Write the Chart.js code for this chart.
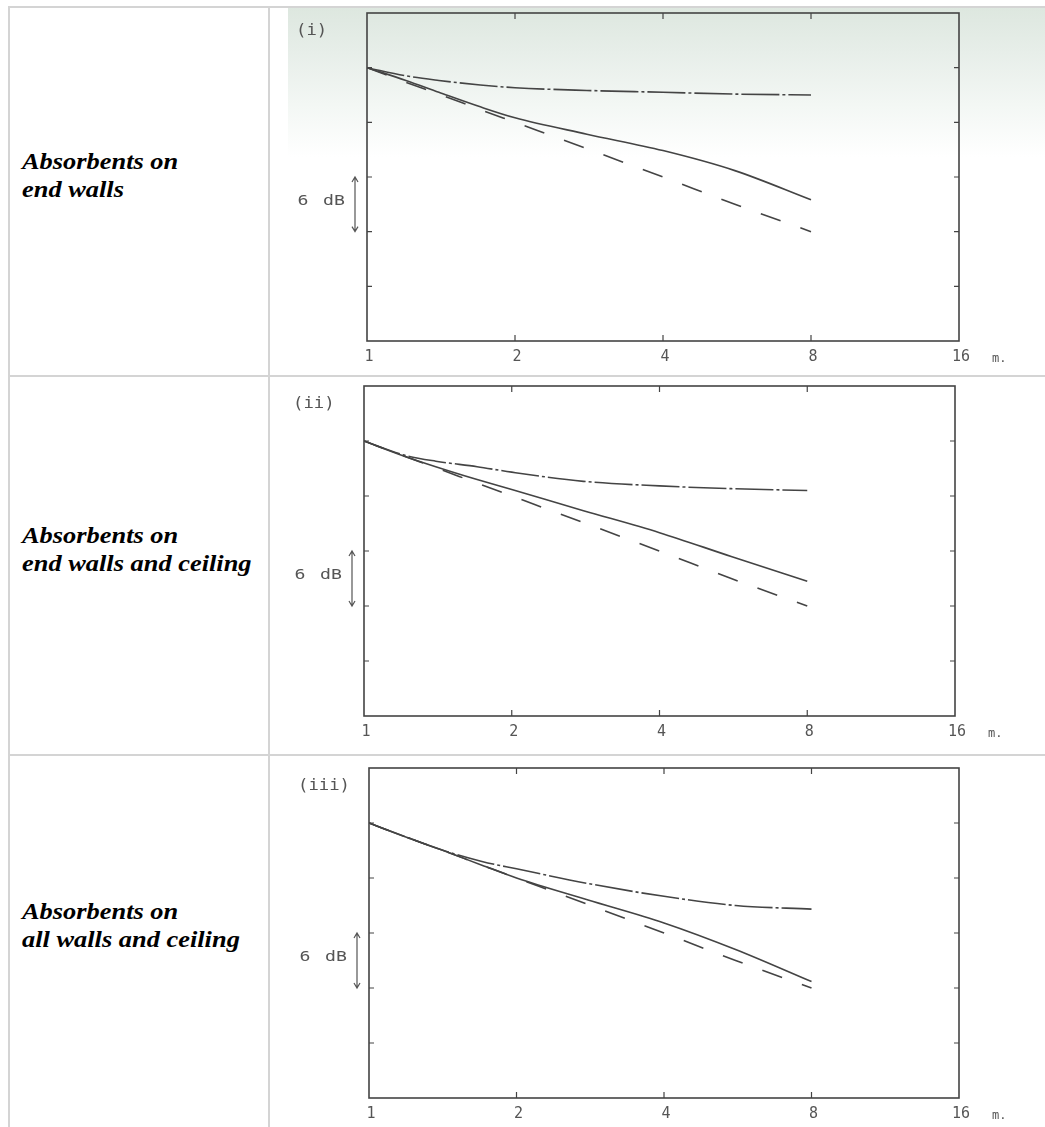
<!DOCTYPE html>
<html>
<head>
<meta charset="utf-8">
<script src="https://cdn.jsdelivr.net/npm/chart.js@4.4.1/dist/chart.umd.min.js"></script>
<style>
  body { margin: 0; width: 1045px; height: 1127px; overflow: hidden; background: #fff; position: relative; }
  .rule { position: absolute; background: #d4d4d4; }
  .label { position: absolute; left: 22px; font-family: "Liberation Serif", "Times New Roman", serif; font-weight: bold; font-style: italic; font-size: 24px; line-height: 28px; color: #000; white-space: nowrap; transform: scaleX(1.1); transform-origin: left top; }
  canvas { position: absolute; }
  #scan { position: absolute; left: 288px; top: 7px; width: 757px; height: 150px;
    background: linear-gradient(to bottom, #dde7df 0%, #e7eee9 30%, #f3f7f4 65%, rgba(255,255,255,0) 100%); }
</style>
</head>
<body>
<div id="scan"></div>
<div class="rule" style="left:9px;top:6px;width:1036px;height:2px"></div>
<div class="rule" style="left:9px;top:375px;width:1036px;height:2px"></div>
<div class="rule" style="left:9px;top:754px;width:1036px;height:2px"></div>
<div class="rule" style="left:8px;top:6px;width:2px;height:1121px"></div>
<div class="rule" style="left:268px;top:6px;width:2px;height:1121px"></div>

<div class="label" style="top:147px">Absorbents on<br>end walls</div>
<div class="label" style="top:521px">Absorbents on<br>end walls and ceiling</div>
<div class="label" style="top:897px">Absorbents on<br>all walls and ceiling</div>

<canvas id="c1"></canvas>
<canvas id="c2"></canvas>
<canvas id="c3"></canvas>

<script>
// distance from source (m), log axis 1..16
const distances = [1, 1.2, 1.4, 1.7, 2, 2.8, 4, 5.6, 8];
const xTicks = [1, 2, 4, 8, 16];
const yTicks = [6, 0, -6, -12, -18, -24, -30];

// level relative to 1 m (dB)
const freeField = [0, -1.6, -2.9, -4.6, -6, -8.9, -12, -15, -18];

const endWallsSolid = [0, -1.4, -2.7, -4.3, -5.5, -7.3, -9.1, -11.3, -14.5];
const endWallsDashDot = [0, -0.9, -1.4, -1.9, -2.2, -2.5, -2.7, -2.9, -3.0];

const ceilingSolid = [0, -1.6, -2.8, -4.2, -5.3, -7.6, -10.0, -12.6, -15.3];
const ceilingDashDot = [0, -1.5, -2.2, -2.8, -3.4, -4.4, -4.9, -5.2, -5.4];

const allSolid = [0, -1.6, -2.9, -4.6, -6.0, -8.4, -10.9, -13.8, -17.3];
const allDashDot = [0, -1.6, -2.9, -4.2, -5.0, -6.6, -8.0, -9.0, -9.4];

const ink = '#444';
const axisH = 30;

const framePlugin = {
  id: 'frame',
  afterDraw(chart, args, opts) {
    const ctx = chart.ctx;
    const a = chart.chartArea;
    const x = chart.scales.x;
    const y = chart.scales.y;
    ctx.save();
    ctx.strokeStyle = ink;
    ctx.lineWidth = 1.6;
    ctx.strokeRect(a.left, a.top, a.right - a.left, a.bottom - a.top);

    // inward ticks on all four sides
    ctx.lineWidth = 1.2;
    ctx.beginPath();
    xTicks.slice(1, -1).forEach(v => {
      const px = x.getPixelForValue(v);
      ctx.moveTo(px, a.top); ctx.lineTo(px, a.top + 6);
      ctx.moveTo(px, a.bottom); ctx.lineTo(px, a.bottom - 6);
    });
    yTicks.slice(1, -1).forEach(v => {
      const py = y.getPixelForValue(v);
      ctx.moveTo(a.left, py); ctx.lineTo(a.left + 5, py);
      ctx.moveTo(a.right, py); ctx.lineTo(a.right - 5, py);
    });
    ctx.stroke();

    // 6 dB scale arrow
    const y1 = y.getPixelForValue(-12);
    const y2 = y.getPixelForValue(-18);
    const ax = a.left - 12;
    ctx.strokeStyle = '#555';
    ctx.lineWidth = 1.2;
    ctx.beginPath();
    ctx.moveTo(ax, y1); ctx.lineTo(ax, y2);
    ctx.moveTo(ax - 3, y1 + 5); ctx.lineTo(ax, y1); ctx.lineTo(ax + 3, y1 + 5);
    ctx.moveTo(ax - 3, y2 - 5); ctx.lineTo(ax, y2); ctx.lineTo(ax + 3, y2 - 5);
    ctx.stroke();

    ctx.fillStyle = '#555';
    ctx.textBaseline = 'middle';
    ctx.textAlign = 'center';
    ctx.font = '14px "DejaVu Sans Mono"';
    const midY = (y1 + y2) / 2 - 3;
    [['6', a.left - 64], ['dB', a.left - 33]].forEach(t => {
      ctx.save();
      ctx.translate(t[1], midY);
      ctx.scale(1.3, 1);
      ctx.fillText(t[0], 0, 0);
      ctx.restore();
    });

    // panel tag
    ctx.textAlign = 'left';
    ctx.font = '15px "DejaVu Sans Mono"';
    ctx.save();
    ctx.translate(a.left - 71, a.top + 18);
    ctx.scale(1.15, 1);
    ctx.fillText(opts.tag, 0, 0);
    ctx.restore();

    // unit
    ctx.font = '12px "DejaVu Sans Mono"';
    ctx.fillText('m.', a.right + 33, a.bottom + 18);
    ctx.restore();
  }
};

function pts(values) {
  return distances.map((d, i) => ({ x: d, y: values[i] }));
}

function line(values, dash) {
  return {
    data: pts(values),
    borderColor: ink,
    borderWidth: 1.6,
    borderDash: dash,
    pointRadius: 0,
    fill: false,
    cubicInterpolationMode: 'monotone'
  };
}

function makeChart(id, box, plot, tag, solid, dashDot) {
  const canvas = document.getElementById(id);
  canvas.width = box.w;
  canvas.height = box.h;
  canvas.style.left = box.x + 'px';
  canvas.style.top = box.y + 'px';

  new Chart(canvas, {
    type: 'line',
    data: {
      datasets: [
        line(solid, []),
        line(freeField, [21, 21]),
        line(dashDot, [38, 3, 3, 3])
      ]
    },
    options: {
      responsive: false,
      animation: false,
      devicePixelRatio: 1,
      layout: {
        padding: {
          left: plot.left - box.x,
          top: plot.top - box.y,
          right: box.x + box.w - plot.right,
          bottom: box.y + box.h - plot.bottom - axisH
        }
      },
      plugins: {
        legend: { display: false },
        tooltip: { enabled: false },
        frame: { tag: tag }
      },
      scales: {
        x: {
          type: 'logarithmic',
          min: 1,
          max: 16,
          afterBuildTicks: s => { s.ticks = xTicks.map(v => ({ value: v })); },
          afterFit: s => { s.height = axisH; },
          grid: { display: false, drawTicks: false },
          border: { display: false },
          ticks: {
            autoSkip: false,
            maxRotation: 0,
            padding: 7,
            labelOffset: 2,
            color: '#555',
            font: { family: 'DejaVu Sans Mono', size: 15 },
            callback: v => String(v)
          }
        },
        y: {
          type: 'linear',
          min: -30,
          max: 6,
          display: false
        }
      }
    },
    plugins: [framePlugin]
  });
}

makeChart('c1', { x: 288, y: 7, w: 757, h: 366 }, { left: 367, top: 13, right: 959, bottom: 341 }, '(i)', endWallsSolid, endWallsDashDot);
makeChart('c2', { x: 288, y: 378, w: 757, h: 372 }, { left: 364, top: 386, right: 955, bottom: 716 }, '(ii)', ceilingSolid, ceilingDashDot);
makeChart('c3', { x: 288, y: 757, w: 757, h: 372 }, { left: 369, top: 768, right: 959, bottom: 1098 }, '(iii)', allSolid, allDashDot);
</script>
</body>
</html>
